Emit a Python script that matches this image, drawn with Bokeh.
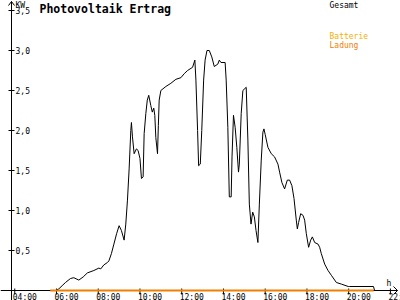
from bokeh.plotting import figure
from bokeh.models import Range1d
from bokeh.embed import file_html
from bokeh.resources import INLINE
from bokeh.core.properties import value

# ---------------- data ----------------
hours = [3.85, 5.81, 5.95, 6.11, 6.27, 6.43, 6.67, 6.83, 7.07, 7.28, 7.48, 7.79, 8.03, 8.12,
         8.27, 8.44, 8.51, 8.63, 8.75, 8.88, 9.00, 9.11, 9.24, 9.32, 9.40, 9.48, 9.56,
         9.59, 9.64, 9.72, 9.83, 9.91, 10.00, 10.07, 10.15, 10.20, 10.28, 10.35, 10.42,
         10.52, 10.59, 10.66, 10.71, 10.76, 10.84, 10.88, 10.92, 11.00, 11.24, 11.48,
         11.72, 11.96, 12.12, 12.28, 12.52, 12.63, 12.68, 12.76, 12.81, 12.89, 12.96,
         13.05, 13.12, 13.21, 13.32, 13.44, 13.56, 13.73, 13.80, 13.88, 14.08, 14.13,
         14.21, 14.28, 14.37, 14.41, 14.48, 14.56, 14.64, 14.72, 14.76, 14.85, 14.93,
         15.09, 15.17, 15.24, 15.32, 15.40, 15.48, 15.56, 15.65, 15.72, 15.81, 15.89,
         15.94, 16.00, 16.13, 16.29, 16.45, 16.61, 16.69, 16.80, 16.93, 17.06, 17.17,
         17.28, 17.38, 17.49, 17.54, 17.60, 17.70, 17.81, 17.89, 17.97, 18.08, 18.18,
         18.26, 18.37, 18.53, 18.61, 18.69, 18.85, 19.01, 19.17, 19.41, 19.65, 19.98,
         20.05, 21.19, 21.24, 22.06]
gesamt_kw = [0.0, 0.0, 0.0, 0.02, 0.06, 0.10, 0.15, 0.16, 0.13, 0.17, 0.22, 0.25, 0.28, 0.27,
             0.32, 0.35, 0.37, 0.46, 0.58, 0.71, 0.81, 0.75, 0.63, 0.83, 1.13, 1.52, 2.00,
             2.10, 1.92, 1.71, 1.77, 1.75, 1.65, 1.40, 1.42, 1.96, 2.21, 2.38, 2.44,
             2.31, 2.23, 2.28, 2.19, 1.91, 1.71, 2.06, 2.38, 2.50, 2.55, 2.59,
             2.64, 2.66, 2.71, 2.75, 2.79, 2.88, 2.63, 2.00, 1.56, 1.58, 2.00,
             2.63, 2.88, 3.00, 3.00, 2.92, 2.80, 2.83, 2.88, 2.85, 2.85, 2.63,
             2.04, 1.17, 1.17, 1.67, 2.19, 2.04, 1.79, 1.48, 1.58, 2.21, 2.50,
             2.54, 1.88, 1.08, 0.83, 0.98, 0.92, 0.75, 0.60, 1.08, 1.63, 1.98,
             2.02, 1.95, 1.79, 1.71, 1.67, 1.58, 1.48, 1.35, 1.27, 1.38, 1.38,
             1.31, 1.15, 0.88, 0.77, 0.85, 0.96, 0.94, 0.88, 0.71, 0.54, 0.63,
             0.67, 0.60, 0.58, 0.54, 0.46, 0.33, 0.25, 0.19, 0.10, 0.08, 0.05,
             0.05, 0.05, 0.0, 0.0]
ladung_hours = [5.7, 21.2]
ladung_kw = [0.0, 0.0]

x_ticks = [4, 6, 8, 10, 12, 14, 16, 18, 20, 22]
x_tick_labels = ["04:00", "06:00", "08:00", "10:00", "12:00", "14:00", "16:00",
                 "18:00", "20:00", "22:00"]
y_ticks = [0.5, 1.0, 1.5, 2.0, 2.5, 3.0, 3.5]
y_tick_labels = ["0,5", "1,0", "1,5", "2,0", "2,5", "3,0", "3,5"]

title_text = "Photovoltaik Ertrag"
legend_texts = ["Gesamt", "Batterie", "Ladung"]
legend_colors = ["#000000", "#F8B000", "#F08000"]

# ---------------- layout helpers (pixel -> data) ----------------
PX_PER_H = 20.87
PX_6H = 56.0
PX_ZERO = 290.0
PX_PER_KW = 80.0


def hx(px):
    return 6 + (px - PX_6H) / PX_PER_H


def ky(py):
    return (PX_ZERO - py) / PX_PER_KW


FONT = value("DejaVu Sans Mono")
ORANGE = "#F08000"

p = figure(width=400, height=300, output_backend="svg", toolbar_location=None,
           x_axis_location=None, y_axis_location=None, min_border=0,
           x_range=Range1d(hx(0), hx(400)), y_range=Range1d(ky(300), ky(0)))
p.outline_line_color = None
p.grid.visible = False
p.background_fill_color = "white"
p.border_fill_color = "white"

# axes
p.line([hx(0), hx(397)], [0, 0], line_color="black", line_width=1)
p.line([hx(393), hx(397), hx(393)], [ky(286), ky(290), ky(294)], line_color="black", line_width=1)
p.line([hx(11), hx(11)], [ky(300), ky(1)], line_color="black", line_width=1)
p.line([hx(8), hx(11), hx(14)], [ky(5), ky(1), ky(5)], line_color="black", line_width=1)

# ticks
p.segment(x0=x_ticks, y0=[ky(288)] * len(x_ticks), x1=x_ticks, y1=[ky(294)] * len(x_ticks),
          line_color="black", line_width=1)
p.segment(x0=[hx(8)] * len(y_ticks), y0=y_ticks, x1=[hx(14)] * len(y_ticks), y1=y_ticks,
          line_color="black", line_width=1)

p.text(x=[t - 2 / PX_PER_H for t in x_ticks], y=[ky(292)] * len(x_ticks), text=x_tick_labels,
       text_font=FONT, text_font_size="8px", text_baseline="top", text_align="left",
       text_color="black")
p.text(x=[hx(15)] * len(y_ticks), y=y_ticks, text=y_tick_labels,
       text_font=FONT, text_font_size="8px", text_baseline="middle", text_align="left",
       text_color="black")
p.text(x=[hx(15)], y=[ky(0)], text=["KW"], text_font=FONT, text_font_size="8px",
       text_baseline="top", text_align="left", text_color="black")
p.text(x=[hx(386)], y=[ky(278)], text=["h"], text_font=FONT, text_font_size="8px",
       text_baseline="top", text_align="left", text_color="black")

# data
p.line(hours, gesamt_kw, line_color="black", line_width=1)
p.line(ladung_hours, ladung_kw, line_color=ORANGE, line_width=2)

# title and legend
p.text(x=[hx(39)], y=[ky(1)], text=[title_text], text_font=FONT, text_font_size="11.5px",
       text_font_style="bold", text_baseline="top", text_align="left", text_color="black")
p.text(x=[hx(329)] * 3, y=[ky(0), ky(31), ky(40)], text=legend_texts, text_font=FONT,
       text_font_size="8px", text_baseline="top", text_align="left", text_color=legend_colors)

open("out.html", "w").write(file_html(p, INLINE))
